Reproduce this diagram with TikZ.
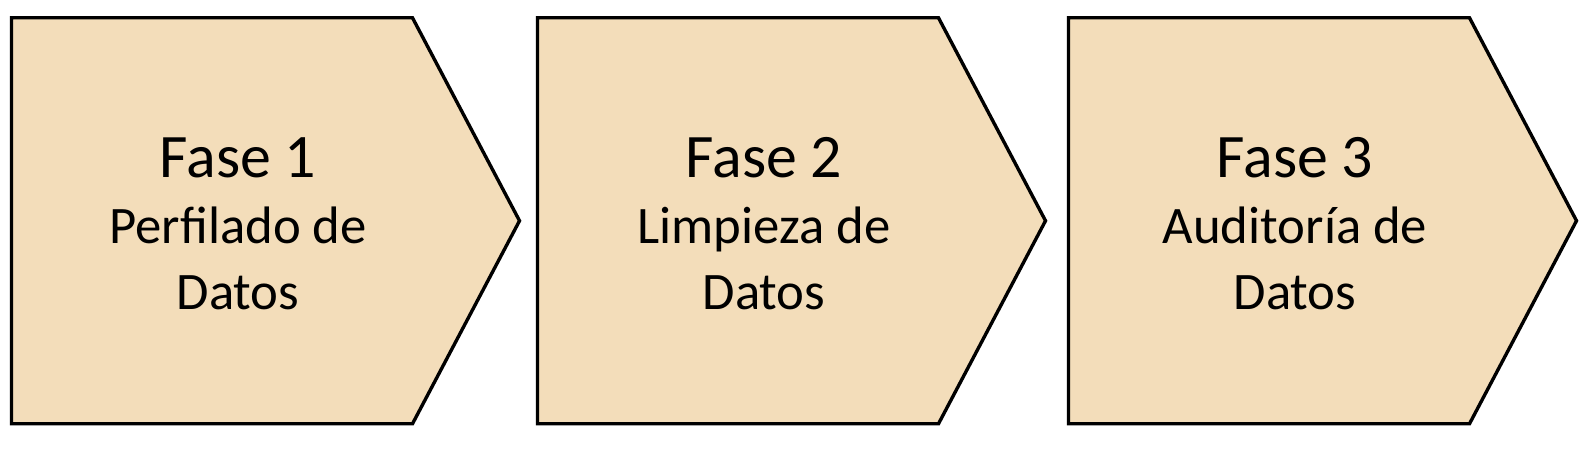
\documentclass[tikz,border=0pt]{standalone}
\usepackage{fontspec}
\setmainfont{Carlito}
\usepackage{tikz}
\usetikzlibrary{shapes.symbols, positioning, calc}
\definecolor{pastelsand}{RGB}{243,221,186}

\begin{document}
\begin{tikzpicture}
		\tikzstyle{fase}=[signal, signal to=east, signal pointer angle=124.4, draw=black, line width=2.4pt, fill=pastelsand, minimum height=10.15cm, minimum width=12.7cm, inner sep=0pt, outer sep=0pt]
		
		\tikzstyle{fasetitle}=[anchor=base, font=\fontsize{44}{50}\selectfont, text=black]
		\tikzstyle{fasetext}=[anchor=base, align=center, font=\fontsize{37.5}{46.9}\selectfont, text=black]
		
		\useasboundingbox (0,0) rectangle (39.8,11.3);
		
		\node [fase] (F1) at (5.3,5.78) {};
		\node [fasetitle] (T1) at ($(F1.center)+(0.65,1.075)$) {Fase 1};
		\node [fasetext] (D1) at ($(F1.center)+(0.65,-2.225)$) {Perfilado de\\Datos};
		
		%%	
		\node [fase, right=0.45cm of F1] (F2) {};
		\node [fasetitle] (T2) at ($(F2.center)+(0.65,1.075)$) {Fase 2};
		\node [fasetext] (D2) at ($(F2.center)+(0.65,-2.225)$) {Limpieza de\\Datos};
		
		%%	
		\node [fase, right=0.575cm of F2] (F3) {};
		\node [fasetitle] (T3) at ($(F3.center)+(0.65,1.075)$) {Fase 3};
		\node [fasetext] (D3) at ($(F3.center)+(0.65,-2.225)$) {Auditoría de\\Datos};
		
\end{tikzpicture}
\end{document}
